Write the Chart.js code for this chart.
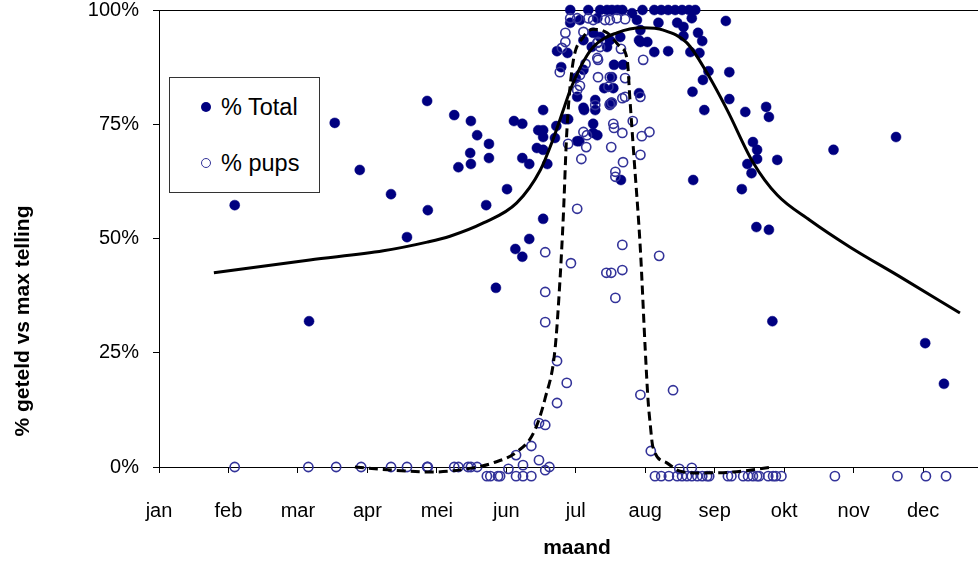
<!DOCTYPE html>
<html>
<head>
<meta charset="utf-8">
<script src="https://cdn.jsdelivr.net/npm/chart.js@4.4.1/dist/chart.umd.min.js"></script>
<style>
  html, body { margin: 0; padding: 0; background: #fff; }
  #wrap { position: relative; width: 978px; height: 564px; font-family: Arial, "Liberation Sans", sans-serif; }
  #c { position: absolute; left: 0; top: 0; }
  .legend { position: absolute; left: 169px; top: 77px; width: 149px; height: 114px; border: 1px solid #333; background: #fff; }
  .lg-row { position: absolute; left: 0; height: 26px; line-height: 26px; font-size: 23.5px; color: #000; white-space: nowrap; }
  .lg-mark { position: absolute; left: 31px; top: 8px; width: 10px; height: 10px; border-radius: 50%; box-sizing: border-box; }
  .lg-text { position: absolute; left: 51px; top: 0; }
  .ytitle { position: absolute; left: -128px; top: 308px; width: 300px; height: 26px; line-height: 26px; text-align: center;
            font-weight: bold; font-size: 21px; transform: rotate(-90deg); transform-origin: 150px 13px; }
  .xtitle { position: absolute; left: 477px; top: 534px; width: 200px; height: 26px; line-height: 26px; text-align: center;
            font-weight: bold; font-size: 21px; }
</style>
</head>
<body>
<div id="wrap">
  <canvas id="c" width="978" height="564"></canvas>
  <div class="legend">
    <div class="lg-row" style="top:16px"><span class="lg-mark" style="background:#000080"></span><span class="lg-text">% Total</span></div>
    <div class="lg-row" style="top:72px"><span class="lg-mark" style="border:1.6px solid #333399"></span><span class="lg-text">% pups</span></div>
  </div>
  <div class="ytitle">% geteld vs max telling</div>
  <div class="xtitle">maand</div>
</div>
<script>
// Month names for the x axis (0 = start of January)
const monthLabels = ['jan', 'feb', 'mar', 'apr', 'mei', 'jun', 'jul', 'aug', 'sep', 'okt', 'nov', 'dec'];
const yTickValues = [0, 25, 50, 75, 100];

// % of maximum count, all animals: [month, percent]
const totalPoints = [
  [1.09,57.3],[2.16,31.9],[2.53,75.3],[2.89,65.0],[3.34,59.7],[3.57,50.3],[3.86,80.1],[3.87,56.2],
  [4.25,77.0],[4.31,65.6],[4.49,75.7],[4.48,68.7],[4.49,66.3],[4.58,72.6],[4.75,70.7],[4.75,67.6],
  [4.71,57.3],[4.85,39.2],[5.01,60.8],[5.11,75.7],[5.23,75.1],[5.13,47.7],[5.23,46.0],[5.33,49.9],
  [5.23,67.6],[5.33,66.3],[5.53,78.1],[5.46,73.7],[5.53,73.7],[5.53,72.2],[5.72,74.6],[5.70,72.0],
  [5.85,76.1],[5.89,76.1],[6.02,71.3],[5.59,66.3],[5.44,69.8],[5.53,69.4],[5.53,54.3],[5.73,91.0],
  [5.88,90.6],[5.79,87.5],[6.00,85.1],[6.11,86.9],[6.02,81.0],[6.12,78.1],[6.28,78.1],[6.25,75.1],
  [6.31,72.6],[6.25,73.1],[6.05,71.3],[6.65,62.8],[7.69,62.8],[8.39,60.8],[6.91,93.4],[7.03,93.0],
  [7.13,90.8],[7.33,91.0],[7.19,97.2],[7.46,97.2],[7.55,96.3],[7.55,94.3],[7.76,95.0],[7.82,93.2],
  [7.67,98.2],[7.65,90.8],[7.78,90.6],[7.91,86.6],[7.83,84.7],[8.21,86.4],[7.68,82.1],[7.85,78.1],
  [8.21,80.5],[8.44,77.7],[8.74,78.8],[8.78,76.6],[8.55,71.1],[8.61,69.4],[8.61,67.4],[8.47,66.3],
  [8.53,64.3],[8.90,67.2],[8.60,52.5],[8.78,51.9],[8.83,31.9],[9.71,69.4],[10.61,72.2],[11.03,27.1],
  [11.30,18.2],[8.16,97.6],[6.91,81.8],[6.68,88.0],[6.55,88.0],[6.52,85.3],[6.49,79.2],[6.54,82.9],
  [6.25,95.0],[6.35,94.1],[6.11,93.4],[6.23,91.9],[6.45,91.9],[6.49,93.4],[6.64,94.1],[6.81,99.3],
  [6.88,97.8],[6.41,82.9],[6.28,80.3],[6.11,78.6],[6.51,79.7],[5.92,97.2],[6.06,97.8],[6.31,98.2],
  [6.93,95.6],[6.93,93.0],
  [5.92,100],[6.18,100],[6.35,100],[6.45,100],[6.52,100],[6.60,100],[6.67,100],[6.96,100],
  [7.13,100],[7.23,100],[7.33,100],[7.43,100],[7.53,100],[7.63,100],[7.72,100]
];

// % of maximum count, pups only: [month, percent]
const pupPoints = [
  [1.09,0],[2.15,0],[2.55,0],[2.91,0],[3.34,0],[3.57,0],[3.86,0],[3.87,0],[4.25,0],[4.31,0],
  [4.45,0],[4.49,0],[4.58,0],
  [5.03,-0.4],[5.14,2.6],[5.24,0.4],[5.36,4.6],[5.47,9.6],[5.56,9.2],[5.47,1.5],[5.56,-0.7],[5.62,0],
  [4.72,-2],[4.77,-2],[4.88,-2],[4.91,-2],[5.14,-2],[5.24,-2],[5.36,-2],
  [7.14,-2],[7.23,-2],[7.34,-2],[7.46,-2],[7.53,-2],[7.60,-2],[7.67,-2],[7.75,-2],[7.82,-2],[7.89,-2],
  [7.92,-2],[8.19,-2],[8.24,-2],[8.41,-2],[8.48,-2],[8.55,-2],[8.61,-2],[8.64,-2],[8.77,-2],[8.84,-2],
  [8.88,-2],[8.96,-2],[9.73,-2],[10.63,-2],[11.04,-2],[11.33,-2],
  [7.49,-0.4],[7.67,-0.2],[7.08,3.5],[6.93,15.8],[7.40,16.8],[5.73,14.0],[5.87,18.4],
  [6.08,67.4],[6.68,66.7],[6.93,68.3],[6.57,64.6],[6.57,63.5],[6.02,56.5],[6.67,48.6],[7.20,46.2],
  [5.56,47.0],[5.93,44.6],[6.44,42.5],[6.51,42.5],[6.67,43.1],[5.56,38.3],[6.57,37.0],[5.56,31.7],
  [5.73,23.2],
  [6.28,79.2],[6.49,79.4],[6.54,75.1],[6.55,74.2],[6.67,73.1],[6.11,73.3],[6.16,72.6],[5.89,70.7],
  [6.15,70.0],[6.51,70.0],[6.82,75.7],[6.95,72.4],[7.06,73.3],
  [6.02,98.2],[6.18,98.2],[6.25,97.8],[6.42,97.8],[6.49,97.8],[6.59,98.2],[6.71,98.0],[5.92,98.2],
  [5.85,95.0],[5.85,93.0],[5.80,91.7],[5.77,86.4],[6.11,95.2],[6.32,93.0],[6.35,91.9],[6.31,89.5],
  [6.32,85.3],[6.49,85.3],[6.06,85.8],[6.02,82.5],[6.67,80.7],[6.71,81.0],[6.93,81.0],[6.97,89.1],
  [6.52,79.7],[6.06,83.4],[6.14,88.2],[6.32,89.1],[6.31,92.8],[6.47,83.2],[6.65,91.5],[6.71,85.1]
];

// Smoothed trend, all animals
const totalTrend = [
  [0.79,42.5],[2.17,45.3],[3.23,47.3],[3.86,49.2],[4.19,50.5],[4.67,53.4],[5.15,57.8],[5.49,65.0],
  [5.67,71.6],[5.82,78.1],[5.92,82.5],[6.06,87.3],[6.25,91.9],[6.59,95.0],[6.97,96.1],[7.26,95.6],
  [7.60,92.8],[7.89,86.2],[8.18,78.1],[8.55,66.7],[8.90,59.5],[9.37,54.0],[9.95,48.1],[10.67,41.6],
  [11.53,33.7]
];

// Smoothed trend, pups
const pupTrend = [
  [2.82,0],[3.37,-0.7],[3.95,-1.1],[4.43,-0.4],[4.81,0.9],[5.15,3.3],[5.39,7.4],[5.56,15.1],
  [5.70,25.6],[5.77,40.3],[5.82,54.7],[5.87,73.1],[5.95,87.5],[6.11,94.1],[6.25,95.8],[6.45,95.0],
  [6.64,91.9],[6.74,89.1],[6.78,80.3],[6.83,69.4],[6.93,47.5],[7.00,25.6],[7.04,14.7],[7.07,9.6],
  [7.11,4.4],[7.31,0.9],[7.50,-0.9],[7.79,-1.3],[8.26,-1.1],[8.84,0]
];

const toXY = arr => arr.map(p => ({ x: p[0], y: p[1] }));

// Markers sitting just outside the plot (below 0 %) are still drawn:
// widen the area used for the in-area test while datasets are painted.
const looseArea = {
  id: 'looseArea',
  beforeDatasetsDraw(chart) {
    const a = chart.chartArea;
    chart.$savedArea = a;
    chart.chartArea = { left: a.left - 20, right: a.right + 20, top: a.top - 20, bottom: a.bottom + 30,
                        width: a.width + 40, height: a.height + 50 };
  },
  afterDatasetsDraw(chart) {
    if (chart.$savedArea) { chart.chartArea = chart.$savedArea; chart.$savedArea = null; }
  }
};

Chart.defaults.font.family = 'Arial, "Liberation Sans", sans-serif';
Chart.defaults.font.size = 20;
Chart.defaults.color = '#000';

new Chart(document.getElementById('c'), {
  type: 'scatter',
  plugins: [looseArea],
  data: {
    datasets: [
      {
        label: 'trend total',
        data: toXY(totalTrend),
        showLine: true,
        borderColor: '#000',
        borderWidth: 3,
        pointRadius: 0,
        cubicInterpolationMode: 'monotone',
        clip: false,
        order: 0
      },
      {
        label: 'trend pups',
        data: toXY(pupTrend),
        showLine: true,
        borderColor: '#000',
        borderWidth: 3,
        borderDash: [9, 5],
        pointRadius: 0,
        cubicInterpolationMode: 'monotone',
        clip: false,
        order: 1
      },
      {
        label: '% pups',
        data: toXY(pupPoints),
        pointRadius: 4.6,
        pointBorderWidth: 1.6,
        borderColor: '#333399',
        backgroundColor: 'rgba(0,0,0,0)',
        clip: false,
        order: 2
      },
      {
        label: '% Total',
        data: toXY(totalPoints),
        pointRadius: 5,
        pointBorderWidth: 0.5,
        borderColor: '#000080',
        backgroundColor: '#000080',
        clip: false,
        order: 3
      }
    ]
  },
  options: {
    responsive: false,
    animation: false,
    events: [],
    layout: { autoPadding: false, padding: { top: 10, right: 0, bottom: 0, left: 0 } },
    plugins: { legend: { display: false }, tooltip: { enabled: false } },
    scales: {
      x: {
        type: 'linear',
        min: 0,
        max: 11.79,
        afterFit: s => { s.height = 97; s.paddingLeft = 0; s.paddingRight = 0; },
        border: { color: '#000', width: 1 },
        grid: { drawOnChartArea: false, tickColor: '#000', tickLength: 6 },
        ticks: {
          stepSize: 1,
          includeBounds: false,
          autoSkip: false,
          maxRotation: 0,
          padding: 26,
          callback: v => (Number.isInteger(v) && monthLabels[v] !== undefined) ? monthLabels[v] : ''
        }
      },
      y: {
        min: 0,
        max: 100,
        afterFit: s => { s.width = 159; s.paddingTop = 0; s.paddingBottom = 0; },
        afterBuildTicks: s => { s.ticks = yTickValues.map(v => ({ value: v })); },
        border: { color: '#000', width: 1 },
        grid: {
          color: c => (c.tick && c.tick.value === 100) ? '#000' : 'rgba(0,0,0,0)',
          tickColor: '#000',
          tickLength: 6
        },
        ticks: { padding: 14, callback: v => v + '%' }
      }
    }
  }
});
</script>
</body>
</html>
